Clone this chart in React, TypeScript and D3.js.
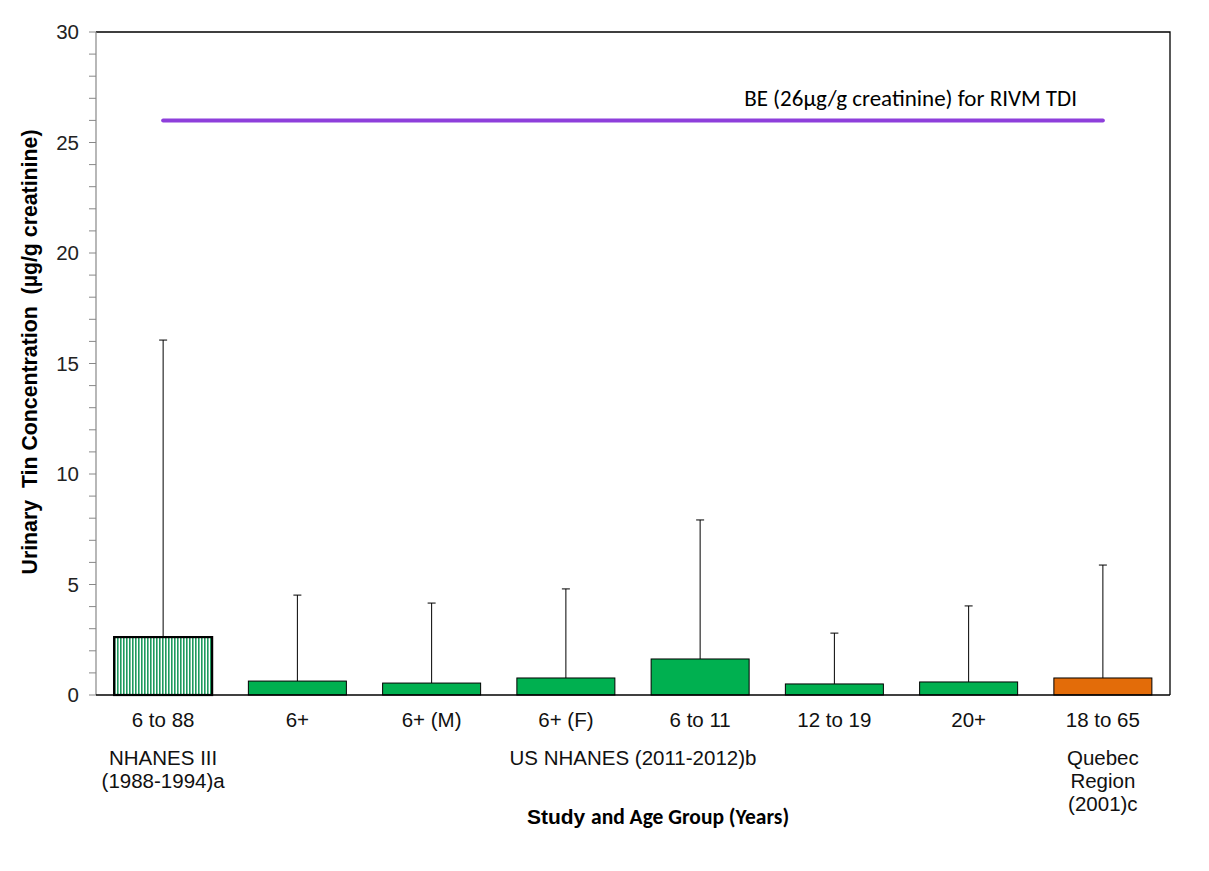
import { useEffect, useRef } from "react";
import * as d3 from "d3";

// 年齢グループ別の尿中スズ濃度
const AGE_GROUPS = ["6 to 88", "6+", "6+ (M)", "6+ (F)", "6 to 11", "12 to 19", "20+", "18 to 65"];
const MEDIANS = [2.62, 0.63, 0.54, 0.77, 1.63, 0.5, 0.59, 0.77];
const UPPER = [16.06, 4.52, 4.16, 4.8, 7.92, 2.8, 4.03, 5.88];
const BAR_KIND = ["hatch", "green", "green", "green", "green", "green", "green", "orange"];
const Y_TICKS = [0, 5, 10, 15, 20, 25, 30];
const BE_VALUE = 26;
const BE_LABEL = "BE (26µg/g creatinine) for RIVM TDI";

const W = 1209;
const H = 871;
const M = { left: 96, right: 1170, top: 32, bottom: 695 };

const GREEN = "#00B050";
const ORANGE = "#E36C09";
const PURPLE = "#8E3FDB";

export default function App() {
  const ref = useRef<SVGSVGElement>(null);

  useEffect(() => {
    if (!ref.current) return;
    const svg = d3.select(ref.current);
    svg.selectAll("*").remove();

    const x = d3.scaleBand<string>().domain(AGE_GROUPS).range([M.left, M.right]).paddingInner(0.27).paddingOuter(0.135);
    const y = d3.scaleLinear().domain([0, 30]).range([M.bottom, M.top]);

    // hatch pattern
    const defs = svg.append("defs");
    const pat = defs.append("pattern").attr("id", "vhatch").attr("patternUnits", "userSpaceOnUse")
      .attr("width", 3).attr("height", 3);
    pat.append("rect").attr("width", 3).attr("height", 3).attr("fill", "#ffffff");
    pat.append("rect").attr("x", 0).attr("width", 1.6).attr("height", 3).attr("fill", "#1E9A5E");

    svg.append("rect").attr("width", W).attr("height", H).attr("fill", "#ffffff");

    // frame: top + right black
    svg.append("path")
      .attr("d", `M${M.left},${M.top}H${M.right}V${M.bottom}`)
      .attr("fill", "none").attr("stroke", "#000").attr("stroke-width", 1.3);

    const font = "Liberation Sans, Arial, sans-serif";
    const calibri = "Carlito, Open Sans, sans-serif";

    // y axis, minor ticks every 1
    const yAxis = svg.append("g");
    d3.range(0, 31).forEach((v) => {
      yAxis.append("line").attr("x1", M.left - 7).attr("x2", M.left)
        .attr("y1", y(v)).attr("y2", y(v)).attr("stroke", "#888").attr("stroke-width", 1);
    });
    yAxis.append("line").attr("x1", M.left).attr("x2", M.left).attr("y1", M.top).attr("y2", M.bottom)
      .attr("stroke", "#888").attr("stroke-width", 1.2);
    Y_TICKS.forEach((v) => {
      yAxis.append("text").attr("x", 79).attr("y", y(v)).attr("dy", "0.35em")
        .attr("text-anchor", "end").attr("font-family", font)
        .attr("font-size", 20.5).attr("fill", "#222").text(v);
    });

    // bars
    AGE_GROUPS.forEach((g, i) => {
      const bx = x(g)!;
      const bw = x.bandwidth();
      const cx = bx + bw / 2;
      const kind = BAR_KIND[i];
      // error bar
      svg.append("line").attr("x1", cx).attr("x2", cx).attr("y1", y(MEDIANS[i])).attr("y2", y(UPPER[i]))
        .attr("stroke", "#000").attr("stroke-width", 1);
      svg.append("line").attr("x1", cx - 4).attr("x2", cx + 4).attr("y1", y(UPPER[i])).attr("y2", y(UPPER[i]))
        .attr("stroke", "#000").attr("stroke-width", 1);
      svg.append("rect").attr("x", bx).attr("y", y(MEDIANS[i]))
        .attr("width", bw).attr("height", y(0) - y(MEDIANS[i]))
        .attr("fill", kind === "hatch" ? "url(#vhatch)" : kind === "orange" ? ORANGE : GREEN)
        .attr("stroke", "#000").attr("stroke-width", kind === "hatch" ? 2.2 : 1);
      svg.append("text").attr("x", cx).attr("y", 727).attr("text-anchor", "middle")
        .attr("font-family", font).attr("font-size", 20.5).attr("fill", "#111")
        .text(g);
    });

    // x axis baseline
    svg.append("line").attr("x1", M.left).attr("x2", M.right).attr("y1", M.bottom).attr("y2", M.bottom)
      .attr("stroke", "#000").attr("stroke-width", 1.3);

    // BE line
    const x0 = x(AGE_GROUPS[0])! + x.bandwidth() / 2;
    const x1 = x(AGE_GROUPS[AGE_GROUPS.length - 1])! + x.bandwidth() / 2;
    svg.append("line").attr("x1", x0).attr("x2", x1).attr("y1", y(BE_VALUE)).attr("y2", y(BE_VALUE))
      .attr("stroke", PURPLE).attr("stroke-width", 4).attr("stroke-linecap", "round");
    svg.append("text").attr("x", 1077).attr("y", 106).attr("text-anchor", "end")
      .attr("font-family", calibri).attr("font-size", 23).attr("fill", "#000")
      .text(BE_LABEL);

    // study group labels
    const groupText = (cx: number, lines: string[]) => {
      lines.forEach((l, k) => {
        svg.append("text").attr("x", cx).attr("y", 765 + k * 23).attr("text-anchor", "middle")
          .attr("font-family", font).attr("font-size", 20.5).attr("fill", "#111").text(l);
      });
    };
    groupText(x(AGE_GROUPS[0])! + x.bandwidth() / 2, ["NHANES III", "(1988-1994)a"]);
    groupText((x(AGE_GROUPS[1])! + x(AGE_GROUPS[6])! + x.bandwidth()) / 2, ["US NHANES (2011-2012)b"]);
    groupText(x1, ["Quebec", "Region", "(2001)c"]);

    // x title
    const xt = svg.append("text").attr("x", 658).attr("y", 824).attr("text-anchor", "middle")
      .attr("font-weight", "bold").attr("fill", "#000");
    xt.append("tspan").attr("font-family", font).attr("font-size", 21).text("Study ");
    xt.append("tspan").attr("font-family", calibri).attr("font-size", 21.5)
      .text("and Age Group (Years)");

    // y title
    svg.append("text").attr("transform", `translate(37,352) rotate(-90)`).attr("text-anchor", "middle")
      .attr("font-family", font).attr("font-weight", "bold").attr("font-size", 21.3).attr("fill", "#000")
      .attr("xml:space", "preserve")
      .text("Urinary  Tin Concentration  (µg/g creatinine)");
  }, []);

  return (
    <svg ref={ref} width={W} height={H} style={{ position: "absolute", left: 0, top: 0 }} />
  );
}
